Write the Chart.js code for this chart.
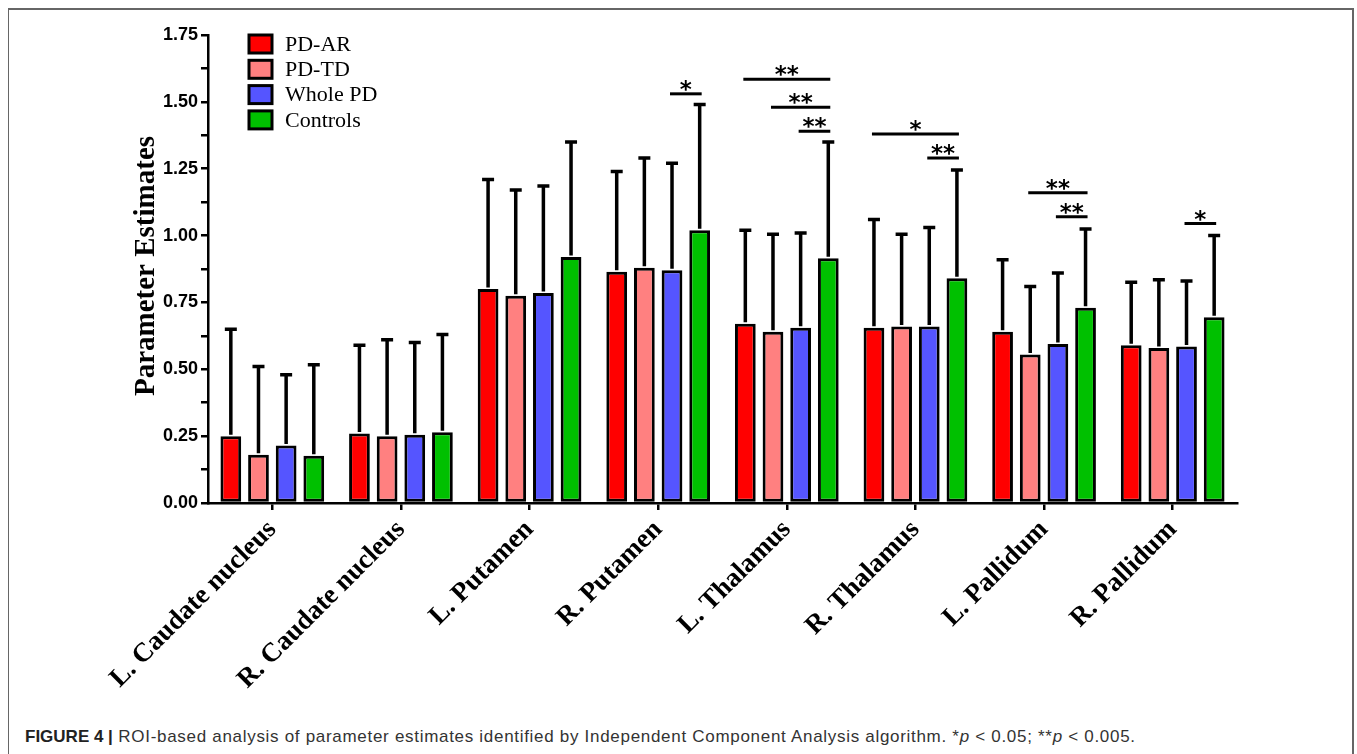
<!DOCTYPE html>
<html>
<head>
<meta charset="utf-8">
<script src="https://cdn.jsdelivr.net/npm/chart.js@4"></script>
<style>
    html, body { margin: 0; padding: 0; background: #fff; }
    #marco { position: absolute; left: 8px; top: 8px; width: 1346px; height: 746px; border: 1px solid #666; border-top-width: 2px; border-right-width: 2px; border-bottom: none; box-sizing: border-box; }
    #lienzo { position: absolute; left: 0; top: 0; width: 1357px; height: 700px; }
    #pie { position: absolute; left: 25px; top: 727px; font-family: "Liberation Sans", Arial, sans-serif; font-size: 17px; letter-spacing: 0.7px; color: #333; white-space: nowrap; }
    #pie b { color: #222; letter-spacing: 0; }
</style>
</head>
<body>
<div id="marco"></div>
<div id="lienzo"><canvas id="grafica" width="1357" height="700"></canvas></div>
<div id="pie"><b>FIGURE 4 |</b> ROI-based analysis of parameter estimates identified by Independent Component Analysis algorithm. *<i>p</i> &lt; 0.05; **<i>p</i> &lt; 0.005.</div>
<script>
// --- Datos ---
const regiones = ['L. Caudate nucleus', 'R. Caudate nucleus', 'L. Putamen', 'R. Putamen', 'L. Thalamus', 'R. Thalamus', 'L. Pallidum', 'R. Pallidum'];
const grupos = ['PD-AR', 'PD-TD', 'Whole PD', 'Controls'];
const colores = ['#ff0000', '#ff8080', '#5555ff', '#00c000'];

const mediaAR = [0.25, 0.26, 0.80, 0.865, 0.67, 0.655, 0.64, 0.59];
const mediaTD = [0.18, 0.25, 0.775, 0.88, 0.64, 0.66, 0.555, 0.58];
const mediaPD = [0.215, 0.255, 0.785, 0.87, 0.655, 0.66, 0.595, 0.585];
const mediaCtl = [0.177, 0.265, 0.92, 1.02, 0.915, 0.84, 0.73, 0.695];

const sdAR = [0.40, 0.33, 0.41, 0.375, 0.35, 0.405, 0.27, 0.235];
const sdTD = [0.33, 0.36, 0.395, 0.41, 0.365, 0.345, 0.255, 0.255];
const sdPD = [0.265, 0.345, 0.40, 0.40, 0.355, 0.37, 0.265, 0.245];
const sdCtl = [0.34, 0.365, 0.43, 0.47, 0.435, 0.405, 0.295, 0.305];

const ticksY = [0, 0.25, 0.5, 0.75, 1.0, 1.25, 1.5, 1.75];

// significancia: region, barra inicial, barra final, altura, etiqueta
const sigRegion = [3, 4, 4, 4, 5, 5, 6, 6, 7];
const sigDesde = [2, 0, 1, 2, 0, 2, 1, 2, 2];
const sigHasta = [3, 3, 3, 3, 3, 3, 3, 3, 3];
const sigAltura = [1.53, 1.585, 1.48, 1.39, 1.38, 1.29, 1.16, 1.07, 1.045];
const sigTexto = ['*', '**', '**', '**', '*', '**', '**', '**', '*'];

const medias = [mediaAR, mediaTD, mediaPD, mediaCtl];
const desvios = [sdAR, sdTD, sdPD, sdCtl];

// --- Barras de error (solo hacia arriba) ---
const errorBars = {
    id: 'errorBars',
    afterDatasetsDraw(chart) {
        const ctx = chart.ctx;
        const y = chart.scales.y;
        ctx.save();
        ctx.strokeStyle = '#000';
        ctx.lineWidth = 3.5;
        medias.forEach((serie, d) => {
            const meta = chart.getDatasetMeta(d);
            meta.data.forEach((bar, i) => {
                const top = y.getPixelForValue(serie[i] + desvios[d][i]);
                ctx.beginPath();
                ctx.moveTo(bar.x, bar.y - 1.5);
                ctx.lineTo(bar.x, top);
                ctx.moveTo(bar.x - 6, top);
                ctx.lineTo(bar.x + 6, top);
                ctx.stroke();
            });
        });
        ctx.restore();
    }
};

// --- Lineas de significancia ---
const significancia = {
    id: 'significancia',
    afterDraw(chart) {
        const ctx = chart.ctx;
        const y = chart.scales.y;
        ctx.save();
        ctx.strokeStyle = '#000';
        ctx.fillStyle = '#000';
        ctx.lineWidth = 3;
        ctx.font = 'bold 23px "DejaVu Sans", sans-serif';
        ctx.textAlign = 'center';
        ctx.textBaseline = 'alphabetic';
        sigRegion.forEach((r, k) => {
            const x1 = chart.getDatasetMeta(sigDesde[k]).data[r].x - 2;
            const x2 = chart.getDatasetMeta(sigHasta[k]).data[r].x + 2;
            const py = y.getPixelForValue(sigAltura[k]);
            ctx.beginPath();
            ctx.moveTo(x1, py);
            ctx.lineTo(x2, py);
            ctx.stroke();
            ctx.fillText(sigTexto[k], (x1 + x2) / 2, py + 3);
        });
        ctx.restore();
    }
};

// --- Leyenda y titulo del eje ---
const leyenda = {
    id: 'leyenda',
    afterDraw(chart) {
        const ctx = chart.ctx;
        ctx.save();
        grupos.forEach((g, i) => {
            const top = 35 + i * 25.3;
            ctx.fillStyle = colores[i];
            ctx.fillRect(249, top, 23, 18);
            ctx.strokeStyle = '#000';
            ctx.lineWidth = 3;
            ctx.strokeRect(249, top, 23, 18);
            ctx.fillStyle = '#000';
            ctx.font = '22px "Liberation Serif", "Times New Roman", serif';
            ctx.textAlign = 'left';
            ctx.textBaseline = 'middle';
            ctx.fillText(g, 285, top + 10);
        });
        ctx.translate(147, 266);
        ctx.rotate(-Math.PI / 2);
        ctx.font = 'bold 29px "Liberation Serif", "Times New Roman", serif';
        ctx.textAlign = 'center';
        ctx.textBaseline = 'middle';
        ctx.fillText('Parameter Estimates', 0, 0);
        ctx.restore();
    }
};

const ctx = document.getElementById('grafica').getContext('2d');
new Chart(ctx, {
    type: 'bar',
    data: {
        labels: regiones,
        datasets: grupos.map((g, i) => ({
            label: g,
            data: medias[i],
            backgroundColor: colores[i],
            borderColor: '#000',
            borderWidth: 3,
            borderSkipped: false,
            categoryPercentage: 0.86,
            barPercentage: 0.75
        }))
    },
    options: {
        responsive: false,
        animation: false,
        layout: { padding: { left: 0, top: 35, right: 120, bottom: 0 } },
        plugins: {
            legend: { display: false },
            tooltip: { enabled: false }
        },
        scales: {
            x: {
                grid: { display: true, drawOnChartArea: false, offset: false, color: '#000', lineWidth: 2.5, tickLength: 7 },
                border: { color: '#000', width: 2.5 },
                ticks: {
                    color: '#000',
                    maxRotation: 45,
                    minRotation: 45,
                    padding: 4,
                    font: { family: '"Liberation Serif", "Times New Roman", serif', size: 27, weight: 'bold' }
                },
                afterFit: s => { s.height = 197; }
            },
            y: {
                min: 0,
                max: 1.75,
                afterBuildTicks: s => {
                    const t = [];
                    for (let i = 0; i < ticksY.length; i++) {
                        t.push({ value: ticksY[i] });
                        if (i < ticksY.length - 1) t.push({ value: (ticksY[i] + ticksY[i + 1]) / 2 });
                    }
                    s.ticks = t;
                },
                grid: { display: true, drawOnChartArea: false, color: '#000', lineWidth: 2.5, tickLength: 7 },
                border: { color: '#000', width: 2.5 },
                ticks: {
                    color: '#000',
                    padding: 3,
                    font: { family: '"Liberation Sans Narrow", "Liberation Sans", Arial, sans-serif', size: 18, weight: 'bold' },
                    callback: v => ticksY.includes(v) ? v.toFixed(2) : ''
                },
                afterFit: s => { s.width = 208; }
            }
        }
    },
    plugins: [errorBars, significancia, leyenda]
});
</script>
</body>
</html>
